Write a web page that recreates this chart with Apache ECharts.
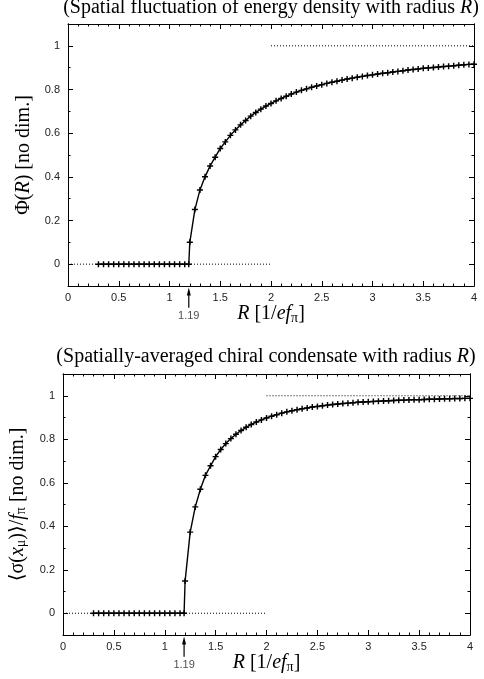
<!DOCTYPE html>
<html>
<head>
<meta charset="utf-8">
<script src="https://cdn.jsdelivr.net/npm/echarts@6/dist/echarts.min.js"></script>
<style>
html,body{margin:0;padding:0;background:#fff;}
#c{width:484px;height:679px;}
</style>
</head>
<body>
<div id="c"></div>
<script>
// ---- data ----
var radius = [0.3,0.35,0.4,0.45,0.5,0.55,0.6,0.65,0.7,0.75,0.8,0.85,0.9,0.95,1.0,1.05,1.1,1.15,1.19,
  1.2,1.25,1.3,1.35,1.4,1.45,1.5,1.55,1.6,1.65,1.7,1.75,1.8,1.85,1.9,1.95,
  2.0,2.05,2.1,2.15,2.2,2.25,2.3,2.35,2.4,2.45,2.5,2.55,2.6,2.65,2.7,2.75,2.8,2.85,2.9,2.95,
  3.0,3.05,3.1,3.15,3.2,3.25,3.3,3.35,3.4,3.45,3.5,3.55,3.6,3.65,3.7,3.75,3.8,3.85,3.9,3.95,4.0];
var phiValues = [0,0,0,0,0,0,0,0,0,0,0,0,0,0,0,0,0,0,0,
  0.10,0.25,0.34,0.40,0.45,0.49,0.53,0.56,0.59,0.615,0.638,0.658,0.678,0.695,0.71,0.724,
  0.736,0.748,0.759,0.769,0.779,0.788,0.796,0.803,0.81,0.816,0.822,0.828,0.833,0.838,0.843,0.848,0.852,0.856,0.86,0.864,
  0.867,0.871,0.874,0.877,0.88,0.883,0.886,0.889,0.892,0.894,0.897,0.899,0.901,0.903,0.905,0.907,0.909,0.911,0.913,0.915,0.916];
var sigmaValues = [0,0,0,0,0,0,0,0,0,0,0,0,0,0,0,0,0,0,0,
  0.148,0.373,0.489,0.570,0.634,0.678,0.720,0.753,0.780,0.803,0.823,0.840,0.855,0.868,0.879,0.889,
  0.898,0.906,0.913,0.920,0.926,0.931,0.936,0.940,0.944,0.948,0.951,0.954,0.957,0.960,0.962,0.964,0.966,0.968,0.970,0.971,
  0.972,0.974,0.975,0.976,0.977,0.978,0.979,0.980,0.981,0.982,0.982,0.983,0.984,0.984,0.985,0.986,0.986,0.987,0.987,0.988,0.988];
var lowRef = [[0,0],[2,0]];
var highRef = [[2,1],[4,1]];
var arrowPts = [[1.19,-0.2],[1.19,-0.125]];
var arrowLabel = '1.19';
var yMajor = [0,0.2,0.4,0.6,0.8,1];
var yMinor = [0.1,0.3,0.5,0.7,0.9];

// ---- chart ----
var SERIF = '"Liberation Serif","DejaVu Serif",serif';
var SANS = '"Liberation Sans",Arial,sans-serif';
var rich = {
  t:{fontFamily:SERIF,fontSize:20,fontWeight:'normal',color:'#000'},
  i:{fontFamily:SERIF,fontSize:20,fontWeight:'normal',fontStyle:'italic',color:'#000'},
  s:{fontFamily:SERIF,fontSize:14,fontWeight:'normal',color:'#000',padding:[9,0,0,0]}
};
var titleRich = {
  t:{fontFamily:SERIF,fontSize:20,fontWeight:'normal',color:'#000'},
  i:{fontFamily:SERIF,fontSize:20,fontWeight:'normal',fontStyle:'italic',color:'#000'}
};
function pairs(xs, ys){ return xs.map(function(x,i){return [x, ys[i]];}); }
var plus = 'path://M-0.24,-1H0.24V-0.24H1V0.24H0.24V1H-0.24V0.24H-1V-0.24H-0.24Z';

function xAxes(g){
  var base = {gridIndex:g,type:'value',min:0,max:4,interval:0.5,
    axisLine:{show:true,onZero:false,lineStyle:{color:'#000',width:1}},
    axisTick:{show:true,inside:true,length:5,lineStyle:{color:'#000'}},
    minorTick:{show:true,splitNumber:5,length:2.5,lineStyle:{color:'#000'}},
    splitLine:{show:false},minorSplitLine:{show:false}};
  var bottom = Object.assign({}, base, {position:'bottom',
    axisLabel:{show:true,fontFamily:SANS,fontSize:11,color:'#222',margin:6},
    name:'{i|R}{t| [1/}{i|ef}{s|π}{t|]}',nameLocation:'middle',nameGap:16,
    nameTextStyle:{fontWeight:'normal',rich:rich}});
  var top = Object.assign({}, base, {position:'top',axisLabel:{show:false}});
  return [bottom, top];
}
function yAxes(g, name, gap){
  var base = {gridIndex:g,type:'value',min:-0.1,max:1.1,
    axisLine:{show:true,onZero:false,lineStyle:{color:'#000',width:1}},
    splitLine:{show:false}};
  return [
    Object.assign({}, base, {position:'left',
      axisTick:{show:true,inside:true,length:5,customValues:yMajor,lineStyle:{color:'#000'}},
      axisLabel:{show:true,customValues:yMajor,fontFamily:SANS,fontSize:11,color:'#222',margin:8},
      name:name,nameLocation:'middle',nameRotate:90,nameGap:gap,nameTextStyle:{fontWeight:'normal',rich:rich}}),
    Object.assign({}, base, {position:'left',
      axisTick:{show:true,inside:true,length:2.5,customValues:yMinor,lineStyle:{color:'#000'}},
      axisLabel:{show:false}}),
    Object.assign({}, base, {position:'right',
      axisTick:{show:true,inside:true,length:5,customValues:yMajor,lineStyle:{color:'#000'}},
      axisLabel:{show:false}}),
    Object.assign({}, base, {position:'right',
      axisTick:{show:true,inside:true,length:2.5,customValues:yMinor,lineStyle:{color:'#000'}},
      axisLabel:{show:false}})
  ];
}
function seriesFor(g, values){
  var xi = g*2, yi = g*4;
  return [
    {type:'line',xAxisIndex:xi,yAxisIndex:yi,data:lowRef,symbol:'none',silent:true,
      lineStyle:{color:'#000',width:1,type:[1,2]}},
    {type:'line',xAxisIndex:xi,yAxisIndex:yi,data:highRef,symbol:'none',silent:true,
      lineStyle:{color:'#000',width:1,type:[1,2]}},
    {type:'line',xAxisIndex:xi,yAxisIndex:yi,data:pairs(radius, values),
      symbol:plus,symbolSize:6,showAllSymbol:true,
      itemStyle:{color:'#000'},lineStyle:{color:'#000',width:1.4}},
    {type:'line',xAxisIndex:xi,yAxisIndex:yi,clip:false,data:arrowPts,
      symbol:function(v,p){return p.dataIndex===1?'triangle':'none';},
      symbolSize:[4,8],itemStyle:{color:'#000'},lineStyle:{color:'#000',width:1.2}},
    {type:'scatter',xAxisIndex:xi,yAxisIndex:yi,clip:false,data:[arrowPts[0]],
      symbol:'circle',symbolSize:1,itemStyle:{color:'rgba(0,0,0,0)'},
      label:{show:true,formatter:arrowLabel,position:'bottom',distance:2,
        fontFamily:SANS,fontSize:11,color:'#222'}}
  ];
}

var option = {
  animation:false,
  backgroundColor:'#fff',
  title:[
    {text:'{t|(Spatial fluctuation of energy density with radius }{i|R}{t|)}',
      left:271,top:-2,textAlign:'center',padding:0,textStyle:{fontWeight:'normal',rich:titleRich}},
    {text:'{t|(Spatially-averaged chiral condensate with radius }{i|R}{t|)}',
      left:266,top:347,textAlign:'center',padding:0,textStyle:{fontWeight:'normal',rich:titleRich}}
  ],
  grid:[
    {left:68,top:24,width:406,height:262,containLabel:false,outerBoundsMode:'none'},
    {left:63,top:374,width:407,height:261,containLabel:false,outerBoundsMode:'none'}
  ],
  xAxis: xAxes(0).concat(xAxes(1)),
  yAxis: yAxes(0,'{t|Φ(}{i|R}{t|) [no dim.]}',33).concat(
         yAxes(1,'{t|⟨σ(}{i|x}{s|μ}{t|)⟩/}{i|f}{s|π}{t| [no dim.]}',31)),
  series: seriesFor(0, phiValues).concat(seriesFor(1, sigmaValues))
};
var chart = echarts.init(document.getElementById('c'));
chart.setOption(option);
</script>
</body>
</html>
